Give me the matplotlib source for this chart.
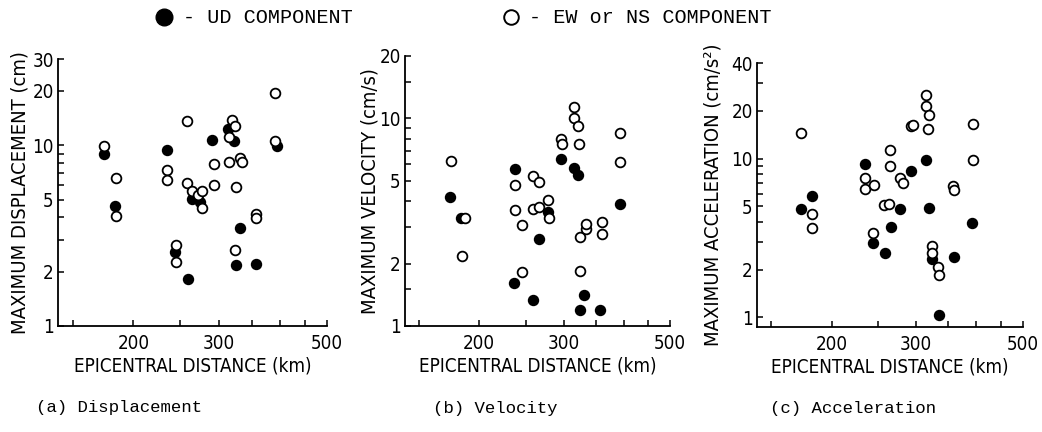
import matplotlib
matplotlib.use("Agg")
import matplotlib.pyplot as plt
from matplotlib.lines import Line2D
from matplotlib.ticker import FixedLocator, NullFormatter, FixedFormatter

# data (distance in km, peak values)
disp_ud_dist = [174, 183, 235, 244, 259, 264, 274, 290, 313, 322, 332, 325, 358, 395]
disp_ud_val = [8.97, 4.64, 9.36, 2.58, 1.83, 5.03, 4.86, 10.7, 12.3, 10.5, 3.47, 2.17, 2.19, 9.85]
disp_h_dist = [174, 184, 184.5, 235, 235, 245, 245, 258, 258, 264, 271, 277, 277, 293.5,
               293.5, 314, 319, 323, 315, 332, 335, 325, 324, 358, 358, 392, 391]
disp_h_val = [9.93, 6.61, 4.08, 7.31, 6.44, 2.79, 2.27, 13.7, 6.22, 5.55, 5.32, 5.55, 4.52, 7.86,
              5.99, 11.1, 13.8, 12.8, 8.07, 8.49, 8.07, 5.91, 2.64, 4.17, 3.98, 19.4, 10.5]

vel_ud_dist = [174, 183, 238, 236, 259, 266, 278, 296, 316, 321, 331, 325, 358, 393]
vel_ud_val = [4.2, 3.32, 5.73, 1.61, 1.34, 2.63, 3.54, 6.41, 5.79, 5.32, 1.41, 1.19, 1.19, 3.88]
vel_h_dist = [175, 184, 187, 237, 237, 246, 246, 259, 267, 259, 266, 278, 280, 296,
              297, 316, 316, 322, 323, 325, 325, 334, 334, 360, 361, 394, 393]
vel_h_val = [6.24, 2.17, 3.32, 4.8, 3.63, 3.08, 1.82, 5.28, 4.94, 3.68, 3.75, 4.03, 3.3, 8.0,
             7.51, 11.3, 10.0, 9.15, 7.51, 2.69, 1.85, 2.94, 3.1, 3.16, 2.78, 8.55, 6.17]

acc_ud_dist = [173, 182, 235, 244, 258, 266, 277, 293, 315, 319, 324, 334, 359, 392]
acc_ud_val = [4.8, 5.8, 9.23, 2.95, 2.55, 3.71, 4.8, 8.34, 9.79, 4.89, 2.34, 1.04, 2.39, 3.93]
acc_h_dist = [173, 182, 182, 235, 235, 245, 244, 257, 263, 265, 265, 278, 281, 292,
              296, 315, 314, 319, 318, 324, 324, 332.5, 334, 358, 359, 393, 393]
acc_h_val = [14.6, 4.5, 3.67, 7.57, 6.48, 6.8, 3.42, 5.08, 5.21, 11.4, 9.02, 7.57, 7.04, 16.1,
             16.4, 25.2, 21.3, 18.7, 15.4, 2.8, 2.56, 2.07, 1.86, 6.74, 6.32, 16.5, 9.79]

x_ticks = [150, 200, 250, 300, 350, 400, 450, 500]
x_labels = ['', '200', '', '300', '', '', '', '500']

narrow = ['DejaVu Sans']
mono = ['Liberation Mono', 'DejaVu Sans Mono']

fig = plt.figure(figsize=(10.42, 4.32), dpi=100)


def panel(rect, ud_x, ud_y, h_x, h_y, ylim, yticks, ylabels, ylabel, labx, caption, capx):
    ax = fig.add_axes(rect)
    ax.set_xscale('log')
    ax.set_yscale('log')
    ax.plot(ud_x, ud_y, 'o', ms=7, mfc='black', mec='black', mew=1.2, ls='none')
    ax.plot(h_x, h_y, 'o', ms=7, mfc='white', mec='black', mew=1.3, ls='none')
    ax.set_xlim(140, 500)
    ax.set_ylim(*ylim)
    ax.xaxis.set_major_locator(FixedLocator(x_ticks))
    ax.xaxis.set_major_formatter(FixedFormatter(x_labels))
    ax.xaxis.set_minor_formatter(NullFormatter())
    ax.xaxis.set_minor_locator(FixedLocator([]))
    ax.yaxis.set_major_locator(FixedLocator(yticks))
    ax.yaxis.set_major_formatter(FixedFormatter(ylabels))
    ax.yaxis.set_minor_locator(FixedLocator([]))
    ax.tick_params(direction='in', length=4, width=1.1, labelsize=13.5, pad=3)
    ax.tick_params(axis='x', pad=6)
    for lab in ax.get_xticklabels() + ax.get_yticklabels():
        lab.set_family(narrow)
        lab.set_stretch('condensed')
    for s in ['top', 'right']:
        ax.spines[s].set_visible(False)
    for s in ['left', 'bottom']:
        ax.spines[s].set_linewidth(1.3)
    ax.set_ylabel(ylabel, fontsize=14.5, family=narrow, stretch='condensed')
    ax.yaxis.set_label_coords(labx, 0.5)
    ax.set_xlabel('EPICENTRAL DISTANCE (km)', fontsize=13.5, family=narrow,
                  stretch='condensed', labelpad=2)
    ax.text(capx, -0.307, caption, transform=ax.transAxes, ha='center', va='center',
            fontsize=12.5, family=mono)
    return ax


yt_a = [1, 2, 3, 4, 5, 6, 7, 8, 9, 10, 20, 30]
yl_a = ['1', '2', '', '', '5', '', '', '', '', '10', '20', '30']
panel([0.0557, 0.2454, 0.258, 0.618], disp_ud_dist, disp_ud_val, disp_h_dist, disp_h_val,
      (1, 30), yt_a, yl_a, 'MAXIMUM DISPLACEMENT (cm)', -0.105, '(a) Displacement', 0.225)

yt_b = [1, 1.5, 2, 3, 4, 5, 6, 7, 8, 9, 10, 15, 20]
yl_b = ['1', '', '2', '', '', '5', '', '', '', '', '10', '', '20']
panel([0.3887, 0.2454, 0.2543, 0.625], vel_ud_dist, vel_ud_val, vel_h_dist, vel_h_val,
      (1, 20), yt_b, yl_b, 'MAXIMUM VELOCITY (cm/s)', -0.095, '(b) Velocity', 0.34)

yt_c = [1, 2, 3, 4, 5, 6, 7, 8, 9, 10, 20, 30, 40]
yl_c = ['1', '2', '', '', '5', '', '', '', '', '10', '20', '', '40']
panel([0.7265, 0.2431, 0.2553, 0.611], acc_ud_dist, acc_ud_val, acc_h_dist, acc_h_val,
      (0.87, 40), yt_c, yl_c, 'MAXIMUM ACCELERATION (cm/s²)', -0.13, '(c) Acceleration', 0.36)

# legend across the top
fig.add_artist(Line2D([0.157], [0.96], marker='o', ms=12, mfc='black', mec='black',
                      transform=fig.transFigure))
fig.text(0.176, 0.96, '- UD COMPONENT', fontsize=14.5, family=mono, va='center')
fig.add_artist(Line2D([0.49], [0.96], marker='o', ms=10.5, mfc='white', mec='black', mew=1.4,
                      transform=fig.transFigure))
fig.text(0.508, 0.96, '- EW or NS COMPONENT', fontsize=14.5, family=mono, va='center')

fig.savefig('out.png', dpi=100, facecolor='white')
